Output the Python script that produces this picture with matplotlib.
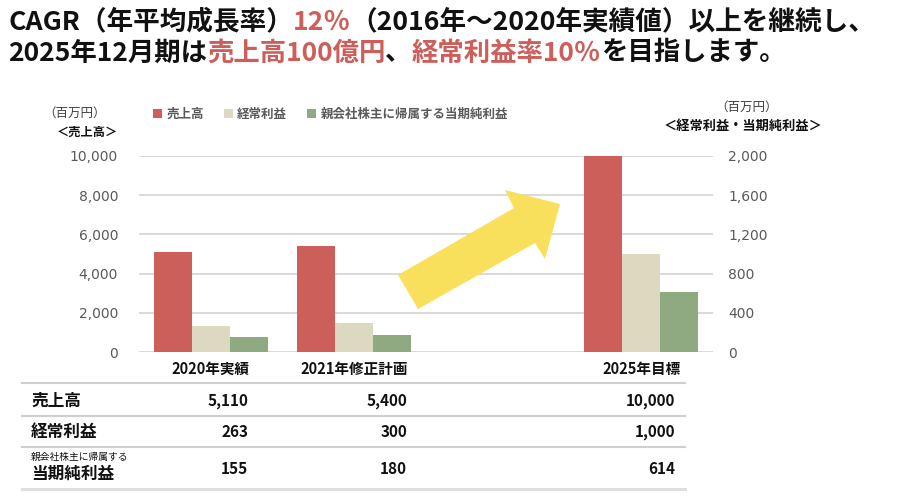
import matplotlib
matplotlib.use("Agg")
import matplotlib.pyplot as plt
from matplotlib.transforms import IdentityTransform
from matplotlib.patches import Polygon
from matplotlib.lines import Line2D
from matplotlib.ticker import FuncFormatter, FixedLocator

plt.rcParams['font.family'] = ['Noto Sans CJK JP', 'DejaVu Sans']

# ---- data ----
categories = ["2020年実績", "2021年修正計画", "2025年目標"]
cat_pos = [0, 1, 3]
sales = [5110, 5400, 10000]
ordinary_profit = [263, 300, 1000]
net_profit = [155, 180, 614]
series_names = ["売上高", "経常利益", "親会社株主に帰属する当期純利益"]
left_ticks = [0, 2000, 4000, 6000, 8000, 10000]
right_ticks = [0, 400, 800, 1200, 1600, 2000]

RED = "#CD5F5B"
BEIGE = "#DDD8C0"
GREEN = "#8FA981"
TXTRED = "#CD5F5B"
W, H = 897, 499

fig = plt.figure(figsize=(W / 100, H / 100), dpi=100)
fig.patch.set_facecolor("white")

def fx(px):
    return px / W

def fy(py):
    return (H - py) / H

ax = fig.add_axes([fx(139), fy(352.3), fx(713) - fx(139), (352.3 - 155.7) / H])
ax2 = ax.twinx()
bw = 0.264
xs0 = [p - bw for p in cat_pos]
xs2 = [p + bw for p in cat_pos]
b1 = ax.bar(xs0, sales, width=bw, color=RED, zorder=3, label=series_names[0])
b2 = ax2.bar(cat_pos, ordinary_profit, width=bw, color=BEIGE, zorder=3, label=series_names[1])
b3 = ax2.bar(xs2, net_profit, width=bw, color=GREEN, zorder=3, label=series_names[2])

ax.set_xlim(-0.5, 3.5)
ax.set_ylim(0, 10000)
ax2.set_ylim(0, 2000)
ax.yaxis.set_major_locator(FixedLocator(left_ticks))
ax2.yaxis.set_major_locator(FixedLocator(right_ticks))
fmt = FuncFormatter(lambda v, p: f"{int(v):,}")
ax.yaxis.set_major_formatter(fmt)
ax2.yaxis.set_major_formatter(fmt)
ax.grid(axis="y", color="#D9D9D9", linewidth=1.4, zorder=0)
ax.set_axisbelow(True)
for a in (ax, ax2):
    for s in a.spines.values():
        s.set_visible(False)
    a.tick_params(length=0)
ax.tick_params(axis="y", pad=15, labelsize=10, labelcolor="#595959")
ax2.tick_params(axis="y", pad=11, labelsize=10, labelcolor="#595959")
for lbl in ax.get_yticklabels() + ax2.get_yticklabels():
    lbl.set_family("DejaVu Sans")
ax.set_xticks(cat_pos)
ax.set_xticklabels(categories, fontsize=10.5, fontweight="bold", color="#111111")
ax.tick_params(axis="x", pad=6)
ax2.set_zorder(ax.get_zorder() + 1)
ax2.patch.set_visible(False)

# legend
fig.legend(handles=[b1, b2, b3], labels=series_names, loc="center left",
           bbox_to_anchor=(fx(153), fy(114)), ncol=3, frameon=False,
           handlelength=0.72, handleheight=0.72, handletextpad=0.35,
           columnspacing=1.6, borderpad=0, borderaxespad=0,
           prop={"weight": "bold", "size": 9})
for t in fig.legends[0].get_texts():
    t.set_color("#595959")

# axis unit labels
fig.text(fx(75), fy(113), "（百万円）", fontsize=9, color="#404040", ha="center", va="center")
fig.text(fx(87), fy(132), "＜売上高＞", fontsize=8.8, color="#111111", fontweight="bold", ha="center", va="center")
fig.text(fx(747), fy(107), "（百万円）", fontsize=9, color="#404040", ha="center", va="center")
fig.text(fx(743), fy(126), "＜経常利益・当期純利益＞", fontsize=9.5, color="#111111", fontweight="bold", ha="center", va="center")

# yellow arrow (decoration)
arrow_px = [(398, 275), (514, 208), (505, 190), (560, 204), (545, 259), (535, 243), (418, 309)]
fig.patches.append(Polygon([(fx(x), fy(y)) for x, y in arrow_px], closed=True,
                           facecolor="#F9E05C", edgecolor="none",
                           transform=fig.transFigure, figure=fig, zorder=5))

# title (multi-colour)
fig.canvas.draw()
renderer = fig.canvas.get_renderer()

def rich(x, y, parts, size):
    for s, c in parts:
        t = fig.text(x, H - y, s, color=c, fontsize=size, fontweight="bold",
                     va="center", ha="left", transform=IdentityTransform())
        x = t.get_window_extent(renderer).x1

rich(8, 22, [("CAGR（年平均成長率）", "#111111"), ("12％", TXTRED),
             ("（2016年～2020年実績値）以上を継続し、", "#111111")], 19.2)
rich(8, 53, [("2025年12月期は", "#111111"), ("売上高100億円", TXTRED), ("、", "#111111"),
             ("経常利益率10％", TXTRED), ("を目指します。", "#111111")], 19.0)

# table
line_ys = [383.3, 415.7, 447.3, 489]
for i, ly in enumerate(line_ys):
    fig.lines.append(Line2D([fx(22), fx(685)], [fy(ly), fy(ly)], transform=fig.transFigure,
                            color="#CFCFCF" if i < 3 else "#DEDEDE", linewidth=1.5 if i < 3 else 2.2))
value_x = [248, 407, 675]
row_y = [401, 432, 469]
rows = [sales, ordinary_profit, net_profit]
fig.text(fx(31), fy(401), "売上高", fontsize=12, fontweight="bold", color="#111111", va="center")
fig.text(fx(31), fy(432), "経常利益", fontsize=12, fontweight="bold", color="#111111", va="center")
fig.text(fx(31), fy(457), "親会社株主に帰属する", fontsize=7, color="#111111", va="center")
fig.text(fx(31), fy(474), "当期純利益", fontsize=12, fontweight="bold", color="#111111", va="center")
for r, vals in enumerate(rows):
    for c, v in enumerate(vals):
        fig.text(fx(value_x[c]), fy(row_y[r]), f"{v:,}", fontsize=11, fontweight="bold",
                 color="#111111", ha="right", va="center")

fig.savefig("out.png", dpi=100, facecolor="white")
